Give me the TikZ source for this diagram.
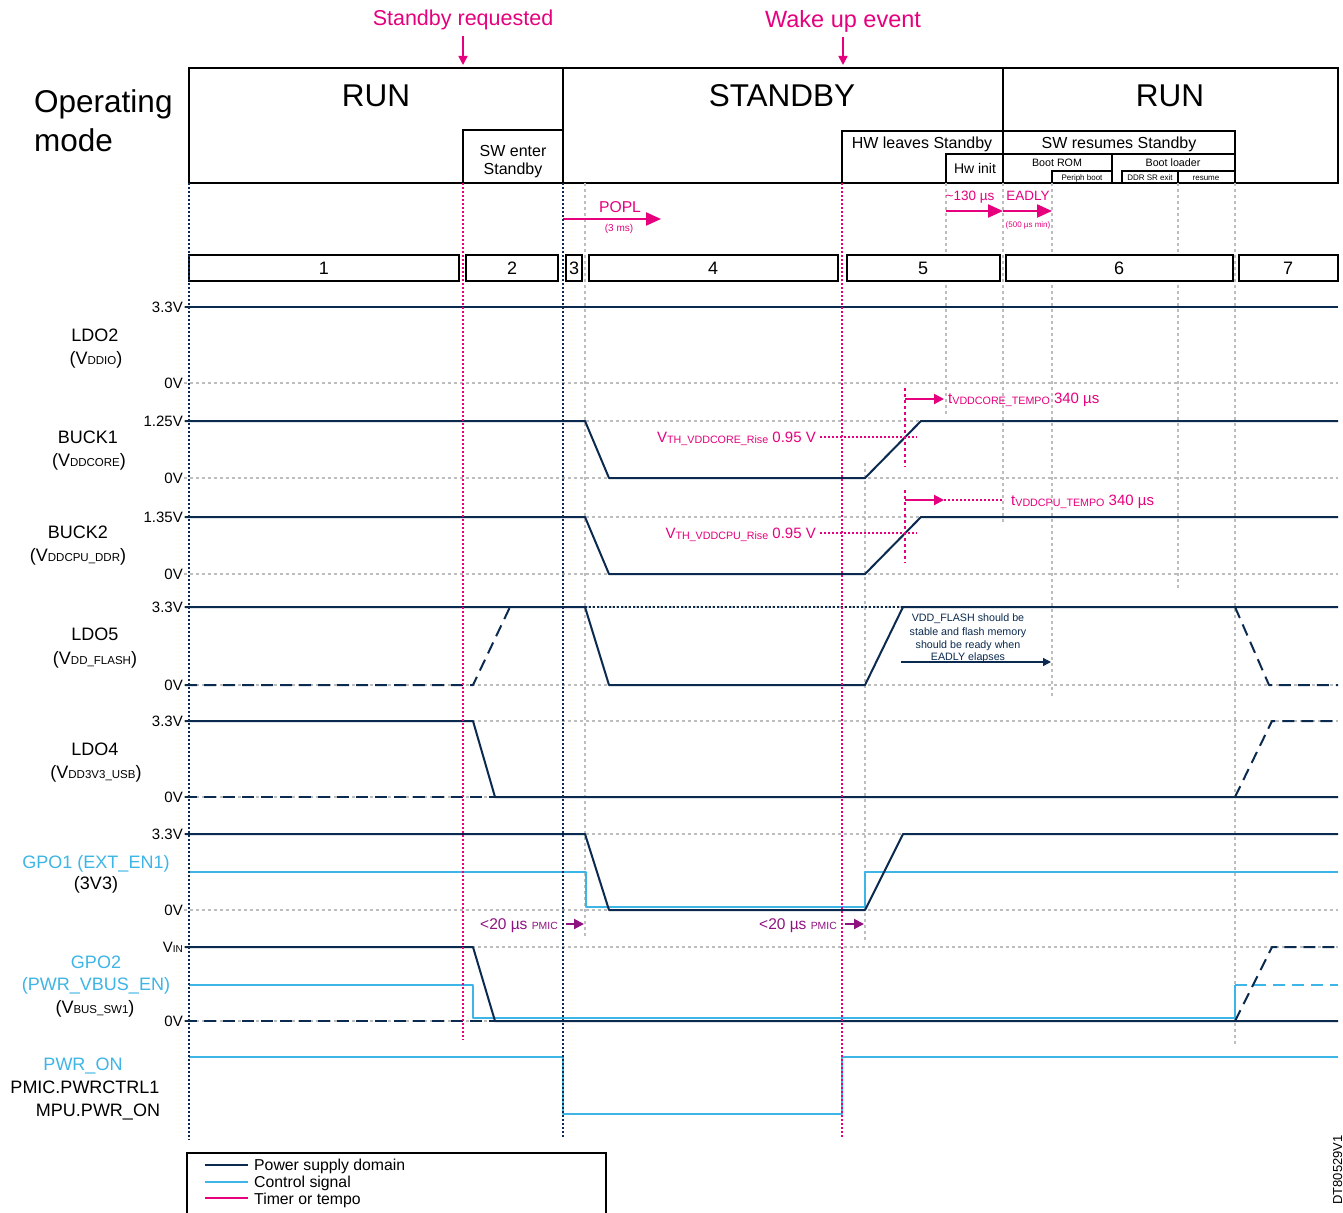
\documentclass[tikz,border=0pt]{standalone}
\usepackage{fontspec}
\setmainfont{Liberation Sans}
\usetikzlibrary{arrows.meta}
\definecolor{navy}{HTML}{0B2A4F}
\definecolor{lblue}{HTML}{3DB5E6}
\definecolor{stpink}{HTML}{E6007E}
\definecolor{stpurple}{HTML}{8E1380}
\definecolor{gridgray}{HTML}{BDBDBD}
\newcommand\fsz[1]{\fontsize{#1}{#1}\selectfont}
\newcommand\vsb[1]{{\fsz{11.5}#1}}
\begin{document}
\begin{tikzpicture}[x=1pt,y=-1pt,
  lab/.style={inner sep=0pt, anchor=base},
  hdr/.style={draw=black, line width=1.8pt},
  pbox/.style={draw=black, fill=white, line width=1.5pt},
  wave/.style={draw=navy, line width=2pt, line join=round},
  wdash/.style={wave, dash pattern=on 12pt off 7pt},
  ctl/.style={draw=lblue, line width=1.8pt, line join=round},
  cdash/.style={ctl, dash pattern=on 12pt off 7pt},
  gridl/.style={draw=gridgray, line width=1.3pt, dash pattern=on 3pt off 3pt},
  vnavy/.style={draw=navy, line width=1.8pt, dash pattern=on 2pt off 2pt},
  vpink/.style={draw=stpink, line width=1.9pt, dash pattern=on 2pt off 2pt},
  vgray/.style={draw=gridgray, line width=1.4pt, dash pattern=on 3pt off 3pt},
  bigarr/.style={draw=stpink, line width=2.2pt, -{Triangle[length=15pt,width=13pt]}},
  smarr/.style={draw=stpink, line width=2pt, -{Triangle[length=10pt,width=10pt]}},
  purarr/.style={draw=stpurple, line width=2pt, -{Triangle[length=10pt,width=10pt]}},
  downarr/.style={draw=stpink, line width=1.6pt, -{Triangle[length=9pt,width=9pt]}},
  pinkdot/.style={draw=stpink, line width=1.5pt, dash pattern=on 2pt off 2pt},
  pinkdash/.style={draw=stpink, line width=1.5pt, dash pattern=on 3pt off 3pt},
  lvl/.style={inner sep=0pt, anchor=base east, font=\fsz{15}},
  sig/.style={inner sep=0pt, anchor=base, font=\fsz{18}},
]
\useasboundingbox[fill=white] (0,0) rectangle (1343,1212);

% ---------- top events ----------
\node[lab, font=\fsz{21.5}, text=stpink] (sreq) at (463,26) {Standby requested};
\node[lab, font=\fsz{23.5}, text=stpink] (wake) at (843,28) {Wake up event};
\coordinate (sreqtip) at (463,65);
\coordinate (waketip) at (843,65);
\draw[downarr] (463,36) -- (sreqtip);
\draw[downarr] (843,37) -- (waketip);

% ---------- operating mode header ----------
\node[inner sep=0pt, anchor=base west, font=\fsz{31.5}] (om1) at (34,113) {Operating};
\node[inner sep=0pt, anchor=base west, font=\fsz{31.5}] (om2) at (34,151) {mode};
\draw[hdr] (189,68) rectangle (1338,183);
\draw[hdr] (563,68) -- (563,183);
\draw[hdr] (1003,68) -- (1003,183);
\node[lab, font=\fsz{31.5}] (run1) at (376,107) {RUN};
\node[lab, font=\fsz{31.5}] (stby) at (782,107) {STANDBY};
\node[lab, font=\fsz{31.5}] (run2) at (1170,107) {RUN};
% SW enter standby
\draw[hdr] (463,130) rectangle (563,183);
\node[lab, font=\fsz{16}] (swe1) at (513,156) {SW enter};
\node[lab, font=\fsz{16}] (swe2) at (513,174) {Standby};
% HW leaves standby
\draw[hdr] (842,131) rectangle (1003,183);
\node[lab, font=\fsz{16}] (hwl) at (922,148) {HW leaves Standby};
\draw[hdr] (946,154) rectangle (1003,183);
\node[lab, font=\fsz{14}] (hwi) at (975,173) {Hw init};
% SW resumes standby
\draw[hdr] (1003,131) rectangle (1235,183);
\node[lab, font=\fsz{16}] (swr) at (1119,148) {SW resumes Standby};
\draw[line width=1.6pt] (1003,154) -- (1235,154);
\draw[line width=1.6pt] (1112,154) -- (1112,183);
\node[lab, font=\fsz{10.7}] (brom) at (1057,166) {Boot ROM};
\node[lab, font=\fsz{10.7}] (bldr) at (1173,166) {Boot loader};
\draw[line width=1.4pt] (1052,171) rectangle (1112,183);
\draw[line width=1.4pt] (1122,171) rectangle (1178,183);
\draw[line width=1.4pt] (1178,171) rectangle (1235,183);
\node[lab, font=\fsz{8}] (pb) at (1082,180) {Periph boot};
\node[lab, font=\fsz{8}] (ddr) at (1150,180) {DDR SR exit};
\node[lab, font=\fsz{8}] (res) at (1206,180) {resume};

% ---------- horizontal grid lines ----------
\foreach \yy in {307,383,421,478,517,574,607,685,721,797,834,910,947,1021}
  \draw[gridl] (184,\yy) -- (1338,\yy);

% ---------- vertical time markers ----------
\draw[vgray] (585,183) -- (585,937);
\draw[vgray] (865,463) -- (865,940);
\draw[vgray] (946,183) -- (946,415);
\draw[vgray] (1003,183) -- (1003,522);
\draw[vgray] (1052,183) -- (1052,697);
\draw[vgray] (1178,183) -- (1178,590);
\draw[vgray] (1235,183) -- (1235,1045);

% ---------- phase boxes ----------
\draw[pbox] (189,255) rectangle (459,281);
\draw[pbox] (466,255) rectangle (558,281);
\draw[pbox] (566,255) rectangle (582,281);
\draw[pbox] (589,255) rectangle (838,281);
\draw[pbox] (847,255) rectangle (1000,281);
\draw[pbox] (1006,255) rectangle (1233,281);
\draw[pbox] (1239,255) rectangle (1338,281);
\node[lab, font=\fsz{18}] (p1) at (324,274) {1};
\node[lab, font=\fsz{18}] (p2) at (512,274) {2};
\node[lab, font=\fsz{18}] (p3) at (574,274) {3};
\node[lab, font=\fsz{18}] (p4) at (713,274) {4};
\node[lab, font=\fsz{18}] (p5) at (923,274) {5};
\node[lab, font=\fsz{18}] (p6) at (1119,274) {6};
\node[lab, font=\fsz{18}] (p7) at (1288,274) {7};

% ---------- timing arrows (top) ----------
\coordinate (popl0) at (563,219);
\coordinate (popl1) at (661,219);
\draw[bigarr] (popl0) -- (popl1);
\node[lab, font=\fsz{15.7}, text=stpink] (popl) at (620,212) {POPL};
\node[lab, font=\fsz{10}, text=stpink] (popms) at (619,231) {(3 ms)};
\coordinate (hw0) at (946,211);
\coordinate (hw1) at (1003,211);
\coordinate (ea1) at (1052,211);
\draw[bigarr] (hw0) -- (hw1);
\draw[bigarr] (hw1) -- (ea1);
\node[lab, font=\fsz{13.5}, text=stpink] (t130) at (970,200) {\textasciitilde130 µs};
\node[lab, font=\fsz{13.5}, text=stpink] (eadly) at (1028,200) {EADLY};
\node[lab, font=\fsz{8}, text=stpink] (e500) at (1028,227) {(500 µs min)};

% ---------- signal labels ----------
\node[lvl] (l1) at (183,312) {3.3V};
\node[lvl] (l2) at (183,388) {0V};
\node[lvl] (l3) at (183,426) {1.25V};
\node[lvl] (l4) at (183,483) {0V};
\node[lvl] (l5) at (183,522) {1.35V};
\node[lvl] (l6) at (183,579) {0V};
\node[lvl] (l7) at (183,612) {3.3V};
\node[lvl] (l8) at (183,690) {0V};
\node[lvl] (l9) at (183,726) {3.3V};
\node[lvl] (l10) at (183,802) {0V};
\node[lvl] (l11) at (183,839) {3.3V};
\node[lvl] (l12) at (183,915) {0V};
\node[lvl] (l13) at (183,952) {V{\fsz{10}IN}};
\node[lvl] (l14) at (183,1026) {0V};

\node[sig] (s1a) at (95,341) {LDO2};
\node[sig] (s1b) at (96,364) {(V\vsb{DDIO})};
\node[sig] (s2a) at (88,443) {BUCK1};
\node[sig] (s2b) at (89,466) {(V\vsb{DDCORE})};
\node[sig] (s3a) at (78,538) {BUCK2};
\node[sig] (s3b) at (78,561) {(V\vsb{DDCPU\_DDR})};
\node[sig] (s4a) at (95,640) {LDO5};
\node[sig] (s4b) at (95,664) {(V\vsb{DD\_FLASH})};
\node[sig] (s5a) at (95,755) {LDO4};
\node[sig] (s5b) at (96,778) {(V\vsb{DD3V3\_USB})};
\node[sig, text=lblue] (s6a) at (96,868) {GPO1 (EXT\_EN1)};
\node[sig] (s6b) at (96,889) {(3V3)};
\node[sig, text=lblue] (s7a) at (96,968) {GPO2};
\node[sig, text=lblue] (s7b) at (96,990) {(PWR\_VBUS\_EN)};
\node[sig] (s7c) at (95,1013) {(V\vsb{BUS\_SW1})};
\node[sig, text=lblue] (s8a) at (83,1070) {PWR\_ON};
\node[sig] (s8b) at (85,1093) {PMIC.PWRCTRL1};
\node[sig] (s8c) at (98,1116) {MPU.PWR\_ON};

% ---------- waveforms ----------
% LDO2
\draw[wave] (185,307) -- (1338,307);
% BUCK1
\draw[wave] (185,421) -- (585,421) -- (609,478) -- (865,478) -- (921,421) -- (1338,421);
% BUCK2
\draw[wave] (185,517) -- (585,517) -- (609,574) -- (865,574) -- (921,517) -- (1338,517);
% LDO5
\draw[vnavy] (585,607) -- (903,607);
\draw[wave] (185,607) -- (585,607) -- (609,685) -- (865,685) -- (903,607) -- (1338,607);
\draw[wdash] (185,685) -- (473,685) -- (510,607);
\draw[wdash] (1235,607) -- (1269,685) -- (1338,685);
% LDO4
\draw[wdash] (185,797) -- (495,797);
\draw[wave] (185,721) -- (473,721) -- (495,797) -- (1338,797);
\draw[wdash] (1235,797) -- (1272,721) -- (1338,721);
% GPO1
\draw[ctl] (189,872) -- (586,872) -- (586,907) -- (865,907) -- (865,872) -- (1338,872);
\draw[wave] (185,834) -- (585,834) -- (609,910) -- (865,910) -- (903,834) -- (1338,834);
% GPO2
\draw[ctl] (189,985) -- (473,985) -- (473,1018) -- (1235,1018) -- (1235,985);
\draw[cdash] (1235,985) -- (1338,985);
\draw[wdash] (185,1021) -- (495,1021);
\draw[wave] (185,947) -- (473,947) -- (495,1021) -- (1338,1021);
\draw[wdash] (1235,1021) -- (1272,947) -- (1338,947);
% PWR_ON
\draw[ctl] (189,1057) -- (563,1057) -- (563,1114) -- (842,1114) -- (842,1057) -- (1338,1057);

% ---------- main vertical markers (on top) ----------
\draw[vnavy] (189,183) -- (189,1140);
\draw[vpink] (463,183) -- (463,1040);
\draw[vnavy] (563,183) -- (563,1137);
\draw[vpink] (842,183) -- (842,1137);

% ---------- BUCK annotations ----------
\draw[pinkdash] (905,388) -- (905,467);
\coordinate (tc0) at (905,399);
\coordinate (tc1) at (944,399);
\draw[smarr] (tc0) -- (tc1);
\node[inner sep=0pt, anchor=base west, text=stpink, font=\fsz{15}] (tcore) at (948,403)
  {t\raisebox{-1pt}{\fsz{10.7}VDDCORE\_TEMPO} 340 µs};
\node[inner sep=0pt, anchor=base east, text=stpink, font=\fsz{15}] (vthc) at (816,442)
  {V\raisebox{-1pt}{\fsz{10.7}TH\_VDDCORE\_Rise} 0.95 V};
\draw[pinkdot] (820,437) -- (917,437);

\draw[pinkdash] (905,490) -- (905,563);
\coordinate (tp0) at (905,500);
\coordinate (tp1) at (944,500);
\draw[smarr] (tp0) -- (tp1);
\draw[pinkdot] (944,500) -- (1004,500);
\node[inner sep=0pt, anchor=base west, text=stpink, font=\fsz{15}] (tcpu) at (1011,505)
  {t\raisebox{-1pt}{\fsz{10.7}VDDCPU\_TEMPO} 340 µs};
\node[inner sep=0pt, anchor=base east, text=stpink, font=\fsz{15}] (vthp) at (816,538)
  {V\raisebox{-1pt}{\fsz{10.7}TH\_VDDCPU\_Rise} 0.95 V};
\draw[pinkdot] (820,533) -- (917,533);

% ---------- LDO5 note ----------
\node[lab, font=\fsz{10.7}, text=navy] (n1) at (968,621) {VDD\_FLASH should be};
\node[lab, font=\fsz{10.7}, text=navy] (n2) at (968,635) {stable and flash memory};
\node[lab, font=\fsz{10.7}, text=navy] (n3) at (968,648) {should be ready when};
\node[lab, font=\fsz{10.7}, text=navy] (n4) at (968,660) {EADLY elapses};
\coordinate (na0) at (901,662);
\coordinate (na1) at (1051,662);
\draw[draw=navy, line width=1.3pt, -{Triangle[length=8pt,width=8pt]}] (na0) -- (na1);

% ---------- PMIC delays ----------
\node[inner sep=0pt, anchor=base east, text=stpurple, font=\fsz{15.5}] (d1) at (558,929) {<20 µs {\fsz{10.4}PMIC}};
\coordinate (d1a) at (566,924);
\coordinate (d1b) at (584,924);
\draw[purarr] (d1a) -- (d1b);
\node[inner sep=0pt, anchor=base east, text=stpurple, font=\fsz{15.5}] (d2) at (837,929) {<20 µs {\fsz{10.4}PMIC}};
\coordinate (d2a) at (845,924);
\coordinate (d2b) at (864,924);
\draw[purarr] (d2a) -- (d2b);

% ---------- legend ----------
\draw[line width=1.3pt] (187,1153) rectangle (606,1218);
\draw[navy, line width=2pt] (205,1165) -- (248,1165);
\draw[lblue, line width=2pt] (205,1182) -- (248,1182);
\draw[stpink, line width=2pt] (205,1198) -- (248,1198);
\node[inner sep=0pt, anchor=base west, font=\fsz{15.8}] (lg1) at (254,1170.5) {Power supply domain};
\node[inner sep=0pt, anchor=base west, font=\fsz{15.8}] (lg2) at (254,1187.5) {Control signal};
\node[inner sep=0pt, anchor=base west, font=\fsz{15.8}] (lg3) at (254,1204) {Timer or tempo};

% ---------- reference code ----------
\node[inner sep=0pt, anchor=base east, rotate=90, font=\fsz{13}] (dt) at (1342,1135) {DT80529V1};
\end{tikzpicture}
\end{document}
